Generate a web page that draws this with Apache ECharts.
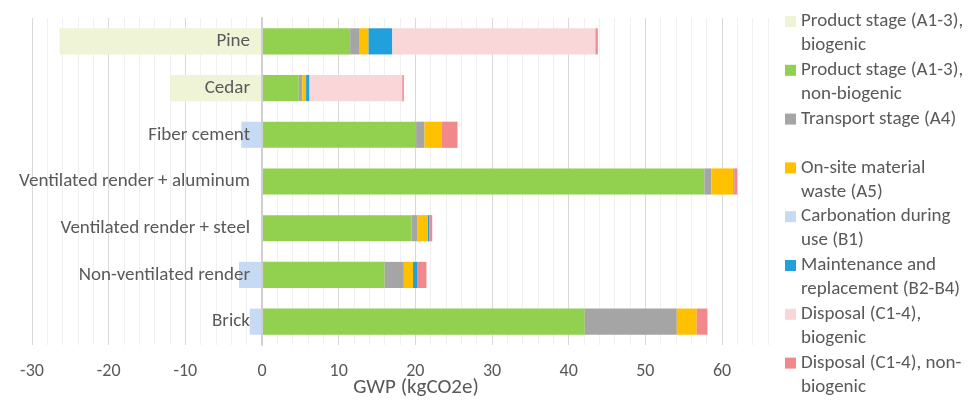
<!DOCTYPE html>
<html>
<head>
<meta charset="utf-8">
<script src="https://cdn.jsdelivr.net/npm/echarts@6/dist/echarts.min.js"></script>
<style>
  html, body { margin: 0; padding: 0; background: #fff; }
  #chart { width: 973px; height: 402px; }
</style>
</head>
<body>
<div id="chart"></div>
<script>
// categories, top to bottom
var categories = ['Pine', 'Cedar', 'Fiber cement', 'Ventilated render + aluminum',
  'Ventilated render + steel', 'Non-ventilated render', 'Brick'];

// GWP per stage (kgCO2e)
var productBio     = [-26.4, -12.0, 0, 0, 0, 0, 0];
var productNonBio  = [11.5, 4.8, 20.1, 57.7, 19.5, 16.0, 42.1];
var transport      = [1.15, 0.45, 1.1, 0.9, 0.8, 2.5, 12.0];
var siteWaste      = [1.25, 0.5, 2.2, 2.9, 1.35, 1.2, 2.6];
var carbonation    = [0, 0, -2.7, 0, 0, -3.0, -1.6];
var maintenance    = [3.1, 0.45, 0, 0.1, 0.15, 0.6, 0];
var disposalBio    = [26.5, 12.1, 0, 0, 0, 0, 0];
var disposalNonBio = [0.3, 0.2, 2.1, 0.4, 0.4, 1.15, 1.4];

var stages = [
  { name: 'Product stage (A1-3),\nbiogenic', data: productBio, color: '#EEF4D5' },
  { name: 'Product stage (A1-3),\nnon-biogenic', data: productNonBio, color: '#92D050' },
  { name: 'Transport stage (A4)\n ', data: transport, color: '#A5A5A5' },
  { name: 'On-site material\nwaste (A5)', data: siteWaste, color: '#FFC000' },
  { name: 'Carbonation during\nuse (B1)', data: carbonation, color: '#C6DAF4' },
  { name: 'Maintenance and\nreplacement (B2-B4)', data: maintenance, color: '#21A0DB' },
  { name: 'Disposal (C1-4),\nbiogenic', data: disposalBio, color: '#F9D7D9' },
  { name: 'Disposal (C1-4), non-\nbiogenic', data: disposalNonBio, color: '#F0888C' }
];

var font = 'Carlito, Lato, sans-serif';
var myChart = echarts.init(document.getElementById('chart'));

var series = stages.map(function (s) {
  return {
    name: s.name,
    type: 'bar',
    stack: 'gwp',
    barCategoryGap: '44%',
    itemStyle: { color: s.color },
    data: s.data
  };
});

myChart.setOption({
  animation: false,
  textStyle: { fontFamily: font },
  grid: { left: 32, right: 205, top: 18, bottom: 57, containLabel: false, outerBoundsMode: 'none' },
  legend: {
    orient: 'vertical',
    left: 785,
    top: -14.5,
    height: 600,
    padding: 0,
    itemGap: -23.2,
    itemWidth: 11,
    itemHeight: 11,
    icon: 'rect',
    // blank first line so the icon sits beside the first text line
    formatter: function (name) { return ' \n' + name; },
    textStyle: { fontSize: 19, color: '#595959', lineHeight: 24 },
    data: stages.map(function (s) { return s.name; })
  },
  xAxis: {
    type: 'value',
    min: -30,
    max: 66,
    interval: 2,
    name: 'GWP (kgCO2e)',
    nameLocation: 'middle',
    nameGap: 32,
    nameMoveOverlap: false,
    nameTextStyle: { fontSize: 21, color: '#595959', padding: [0, 0, 0, 32] },
    axisLine: { show: false },
    axisTick: { show: false },
    axisLabel: {
      fontSize: 18,
      color: '#595959',
      margin: 17,
      formatter: function (v) { return v % 10 === 0 ? String(v) : ''; }
    },
    splitLine: {
      lineStyle: { color: ['#D9D9D9', '#F0F0F0', '#F0F0F0', '#F0F0F0', '#F0F0F0'], width: 1 }
    }
  },
  yAxis: {
    type: 'category',
    inverse: true,
    data: categories,
    z: 5,
    axisLine: { onZero: true, lineStyle: { color: '#D0D0D0', width: 2 } },
    axisTick: { show: false },
    // labels sit just left of the zero line, over the plot
    axisLabel: { fontSize: 19, color: '#595959', margin: -218, align: 'right' }
  },
  series: series
});
</script>
</body>
</html>
